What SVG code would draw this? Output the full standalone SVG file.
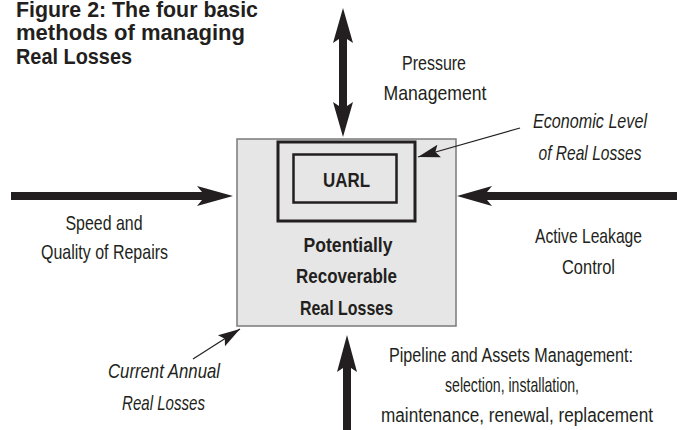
<svg xmlns="http://www.w3.org/2000/svg" width="682" height="430" viewBox="0 0 682 430">
<style>
text{font-family:"Liberation Sans Narrow","Liberation Sans",Arial,sans-serif;fill:#231f20}
.t{font-size:21px;text-anchor:middle}
.i{font-style:italic}
.b{font-weight:bold;font-size:21px;text-anchor:middle}
.h{font-weight:bold;font-size:22px}
.big{fill:#231f20}
.thin{stroke:#231f20;stroke-width:1.2;fill:none}
</style>
<defs>
<marker id="ah" markerUnits="userSpaceOnUse" markerWidth="24" markerHeight="16" viewBox="-22 -8 24 16" refX="0" refY="0" orient="auto">
<path d="M0,0 L-22,-6.5 L-18,0 L-22,6.5 Z" fill="#231f20"/>
</marker>
</defs>
<rect width="682" height="430" fill="#ffffff"/>
<g id="title">
<text class="h" x="16" y="17" textLength="242" lengthAdjust="spacingAndGlyphs">Figure 2: The four basic</text>
<text class="h" x="16" y="40" textLength="229" lengthAdjust="spacingAndGlyphs">methods of managing</text>
<text class="h" x="16" y="64" textLength="116" lengthAdjust="spacingAndGlyphs">Real Losses</text>
</g>
<g id="current">
<rect x="237" y="139" width="219" height="187" fill="#e6e6e6" stroke="#7a7a7a" stroke-width="1.5"/>
<text class="b" x="348" y="252" textLength="89" lengthAdjust="spacingAndGlyphs">Potentially</text>
<text class="b" x="346.5" y="283" textLength="101" lengthAdjust="spacingAndGlyphs">Recoverable</text>
<text class="b" x="346.5" y="315" textLength="93" lengthAdjust="spacingAndGlyphs">Real Losses</text>
</g>
<g id="economic">
<rect x="278" y="142" width="137" height="79" fill="none" stroke="#231f20" stroke-width="3"/>
</g>
<g id="uarl">
<rect x="293.5" y="154.5" width="103" height="48" fill="none" stroke="#231f20" stroke-width="2.5"/>
<text class="b" x="346.5" y="187" textLength="47" lengthAdjust="spacingAndGlyphs">UARL</text>
</g>
<g id="labels">
<text class="t" x="434" y="70" textLength="64" lengthAdjust="spacingAndGlyphs">Pressure</text>
<text class="t" x="435" y="100" textLength="103" lengthAdjust="spacingAndGlyphs">Management</text>
<text class="t i" x="590" y="128" textLength="114" lengthAdjust="spacingAndGlyphs">Economic Level</text>
<text class="t i" x="590" y="160" textLength="103" lengthAdjust="spacingAndGlyphs">of Real Losses</text>
<text class="t" x="104" y="230" textLength="77" lengthAdjust="spacingAndGlyphs">Speed and</text>
<text class="t" x="104.5" y="259" textLength="127" lengthAdjust="spacingAndGlyphs">Quality of Repairs</text>
<text class="t" x="588.5" y="243" textLength="107" lengthAdjust="spacingAndGlyphs">Active Leakage</text>
<text class="t" x="588.5" y="274" textLength="53" lengthAdjust="spacingAndGlyphs">Control</text>
<text class="t i" x="164" y="378" textLength="112" lengthAdjust="spacingAndGlyphs">Current Annual</text>
<text class="t i" x="163.5" y="410" textLength="83" lengthAdjust="spacingAndGlyphs">Real Losses</text>
<text class="t" transform="translate(511,362) scale(0.769,1)" x="0" y="0">Pipeline and Assets Management:</text>
<text class="t" x="512" y="392" textLength="134" lengthAdjust="spacingAndGlyphs">selection, installation,</text>
<text class="t" transform="translate(517,422) scale(0.818,1)" x="0" y="0">maintenance, renewal, replacement</text>
</g>
<g id="connectors">
<path class="big" d="M343,8 L353,43 L347,39 L347,106 L353,102 L343,137 L333,102 L339,106 L339,39 L333,43 Z"/>
<path class="big" d="M11,192 L202,192 L197,186 L233,196 L197,206 L202,200 L11,200 Z"/>
<path class="big" d="M677,192 L487,192 L492,186 L457,196 L492,206 L487,200 L677,200 Z"/>
<path class="big" d="M343,430 L343,368 L337,372 L347,335 L357,372 L351,368 L351,430 Z"/>
<line class="thin" x1="520" y1="128" x2="418" y2="157" marker-end="url(#ah)"/>
<line class="thin" x1="193" y1="359" x2="240" y2="329" marker-end="url(#ah)"/>
</g>
</svg>
